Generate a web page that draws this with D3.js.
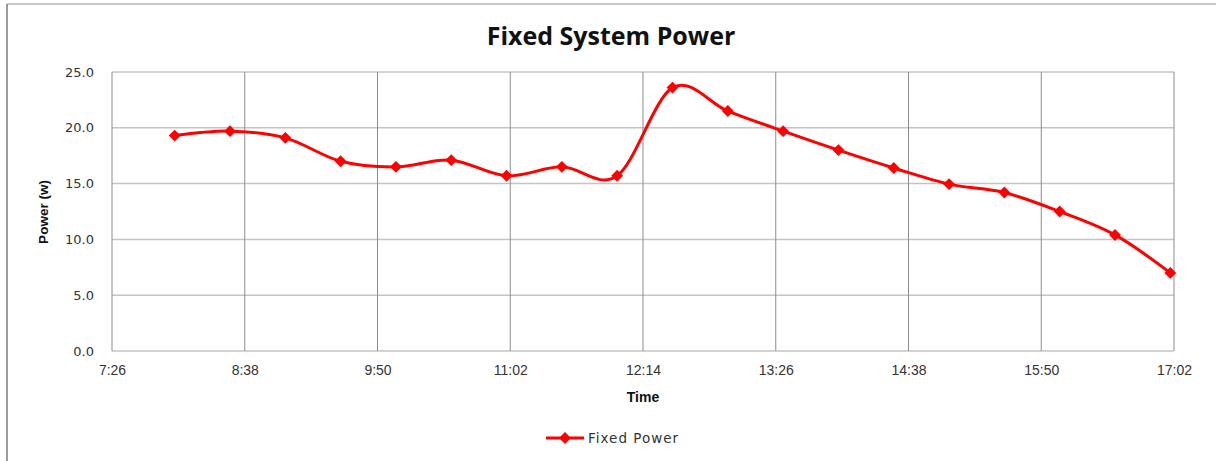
<!DOCTYPE html>
<html lang="en">
<head>
  <meta charset="UTF-8">
  <title>Fixed System Power</title>
  <style>
    body { margin: 0; background: #fff; }
    svg { display: block; }
  </style>
</head>
<body>
  <script src="https://d3js.org/d3.v7.min.js"></script>
  <script>
    // data (minutes since midnight, power in w)
    const times = ['8:00', '8:30', '9:00', '9:30', '10:00', '10:30', '11:00', '11:30', '12:00', '12:30',
      '13:00', '13:30', '14:00', '14:30', '15:00', '15:30', '16:00', '16:30', '17:00']
    const power = [19.3, 19.7, 19.1, 17.0, 16.5, 17.1, 15.7, 16.5, 15.7, 23.6,
      21.5, 19.7, 18.0, 16.4, 14.95, 14.2, 12.5, 10.4, 7.0]
    const xTicks = ['7:26', '8:38', '9:50', '11:02', '12:14', '13:26', '14:38', '15:50', '17:02']
    const yTicks = [0, 5, 10, 15, 20, 25]

    const toMin = s => { let [h, m] = s.split(':'); return +h * 60 + +m }
    const data = times.map((t, i) => ({ t: toMin(t), v: power[i] }))

    const width = 1216, height = 461
    const m = { left: 112, right: 1174, top: 72, bottom: 351 }

    const svg = d3.select('body').append('svg')
      .attr('width', width)
      .attr('height', height)

    // chart frame (only top and left edges visible)
    svg.append('line').attr('x1', 7).attr('x2', width).attr('y1', 4).attr('y2', 4)
      .attr('stroke', '#c8c8c8').attr('stroke-width', 2)
    svg.append('line').attr('x1', 7).attr('x2', 7).attr('y1', 4).attr('y2', height)
      .attr('stroke', '#9a9a9a').attr('stroke-width', 2)

    const x = d3.scaleLinear()
      .domain([toMin(xTicks[0]), toMin(xTicks[xTicks.length - 1])])
      .range([m.left, m.right])
    const y = d3.scaleLinear().domain([0, 25]).range([m.bottom, m.top])

    // horizontal grid
    svg.append('g')
      .selectAll('line')
      .data(yTicks)
      .join('line')
      .attr('x1', m.left).attr('x2', m.right)
      .attr('y1', d => y(d)).attr('y2', d => y(d))
      .attr('stroke', '#c4c4c4').attr('stroke-width', 1.5)

    // vertical grid
    svg.append('g')
      .selectAll('line')
      .data(xTicks.map(toMin))
      .join('line')
      .attr('x1', d => x(d)).attr('x2', d => x(d))
      .attr('y1', m.top).attr('y2', m.bottom)
      .attr('stroke', '#8c8c8c').attr('stroke-width', 1)

    // y axis labels
    svg.append('g')
      .call(d3.axisLeft(y).tickValues(yTicks).tickFormat(d3.format('.1f')).tickSize(0).tickPadding(0))
      .attr('transform', `translate(${m.left - 18},0)`)
      .call(g => g.select('.domain').remove())
      .call(g => g.selectAll('text')
        .attr('font-family', 'DejaVu Sans, Verdana, sans-serif')
        .attr('font-size', 13)
        .attr('fill', '#333'))

    // x axis labels
    svg.append('g')
      .attr('transform', `translate(0,${m.bottom + 14})`)
      .call(d3.axisBottom(x).tickValues(xTicks.map(toMin)).tickFormat((d, i) => xTicks[i]).tickSize(0).tickPadding(0))
      .call(g => g.select('.domain').remove())
      .call(g => g.selectAll('text')
        .attr('font-family', 'Liberation Sans Narrow, Arial Narrow, sans-serif')
        .attr('font-size', 14)
        .attr('fill', '#333'))

    // titles
    svg.append('text')
      .attr('x', 611).attr('y', 45)
      .attr('text-anchor', 'middle')
      .attr('font-family', 'Open Sans, sans-serif')
      .attr('font-weight', 'bold')
      .attr('font-size', 25)
      .attr('fill', '#111')
      .text('Fixed System Power')

    svg.append('text')
      .attr('x', 643).attr('y', 402)
      .attr('text-anchor', 'middle')
      .attr('font-family', 'Liberation Sans Narrow, Arial Narrow, sans-serif')
      .attr('font-weight', 'bold')
      .attr('font-size', 14)
      .attr('fill', '#111')
      .text('Time')

    svg.append('text')
      .attr('transform', 'translate(48,212) rotate(-90)')
      .attr('text-anchor', 'middle')
      .attr('font-family', 'Liberation Sans Narrow, Arial Narrow, sans-serif')
      .attr('font-weight', 'bold')
      .attr('font-size', 13.5)
      .attr('fill', '#111')
      .text('Power (w)')

    // smoothed line
    const line = d3.line()
      .x(d => x(d.t))
      .y(d => y(d.v))
      .curve(d3.curveCardinal.tension(0))

    svg.append('path')
      .datum(data)
      .attr('d', line)
      .attr('fill', 'none')
      .attr('stroke', '#ff0000')
      .attr('stroke-width', 3)

    const diamond = d3.symbol().type(d3.symbolDiamond2).size(90)

    svg.append('g')
      .selectAll('path')
      .data(data)
      .join('path')
      .attr('transform', d => `translate(${x(d.t)},${y(d.v)})`)
      .attr('d', diamond)
      .attr('fill', '#ff0000')

    // legend
    const lg = svg.append('g').attr('transform', 'translate(546,438)')
    lg.append('line').attr('x1', 0).attr('x2', 38).attr('y1', 0).attr('y2', 0)
      .attr('stroke', '#ff0000').attr('stroke-width', 3)
    lg.append('path').attr('transform', 'translate(19,0)').attr('d', diamond).attr('fill', '#ff0000')
    lg.append('text')
      .attr('x', 42).attr('y', 5)
      .attr('font-family', 'DejaVu Sans, Verdana, sans-serif')
      .attr('font-size', 13.5)
      .attr('letter-spacing', 1)
      .attr('fill', '#333')
      .text('Fixed Power')
  </script>
</body>
</html>
